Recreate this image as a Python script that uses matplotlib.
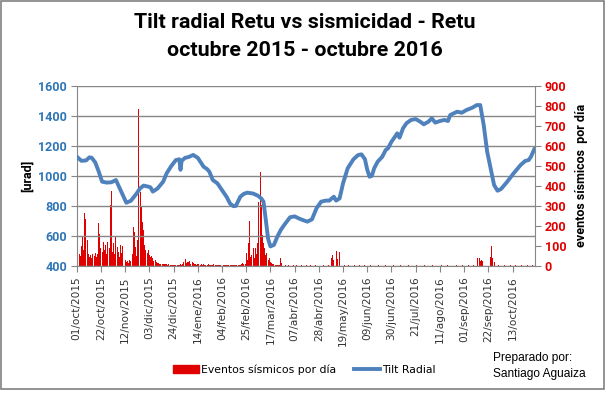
import numpy as np
import matplotlib
matplotlib.use('Agg')
import matplotlib.pyplot as plt
import matplotlib.dates as mdates
from matplotlib.patches import Patch, Rectangle
from matplotlib.lines import Line2D
import datetime as dt

# Start of the series (day offsets below count from here)
inicio = dt.date(2015, 10, 1)

# Tilt radial [urad], day offset -> value
tilt_dia = [0, 4, 8, 11, 13, 16, 19, 22, 26, 30, 34, 38, 43, 47, 52, 55, 58, 62, 64, 66,
            70, 75, 78, 82, 86, 89, 90, 91, 94, 97, 101, 105, 110, 113, 115, 118, 122, 126,
            130, 133, 136, 138, 142, 145, 148, 153, 157, 160, 162, 164, 166, 168, 171, 174,
            177, 180, 185, 189, 193, 196, 200, 204, 208, 212, 216, 219, 223, 225, 228, 231,
            235, 240, 244, 247, 250, 252, 254, 256, 258, 261, 265, 268, 270, 273, 276, 278,
            280, 283, 286, 290, 294, 298, 301, 305, 308, 311, 315, 319, 322, 324, 327, 330,
            334, 338, 343, 347, 350, 353, 356, 359, 362, 365, 368, 373, 379, 385, 389, 392,
            394, 397]
tilt_val = [1128, 1100, 1102, 1123, 1120, 1090, 1030, 961, 955, 957, 972, 905, 821, 834, 883,
            917, 935, 928, 923, 895, 915, 961, 1017, 1065, 1105, 1110, 1040, 1100, 1120, 1125,
            1139, 1120, 1061, 1045, 1028, 972, 950, 905, 860, 815, 798, 800, 862, 880, 888,
            882, 868, 850, 828, 706, 580, 530, 540, 595, 640, 673, 724, 730, 715, 706, 695,
            710, 784, 828, 835, 835, 861, 835, 850, 950, 1050, 1110, 1138, 1143, 1110, 1040,
            994, 1000, 1050, 1094, 1127, 1172, 1183, 1227, 1260, 1283, 1254, 1316, 1350, 1372,
            1378, 1360, 1343, 1360, 1383, 1354, 1365, 1372, 1365, 1405, 1416, 1427, 1420, 1438,
            1453, 1471, 1471, 1338, 1161, 1050, 939, 901, 912, 957, 1017, 1072, 1099, 1105,
            1127, 1180]

# Seismic events per day, days 0..145 (oct 2015 - feb 2016)
ev_oct_feb = [75, 70, 60, 50, 100, 150, 80, 262, 233, 130, 60, 45, 55, 40, 60, 50, 65, 45, 60, 213,
              160, 90, 70, 121, 80, 105, 60, 121, 90, 304, 376, 72, 113, 60, 146, 97, 70, 47, 105, 63,
              100, 50, 30, 20, 25, 15, 30, 25, 60, 193, 171, 97, 50, 130, 782, 371, 296, 221, 180, 105,
              80, 63, 80, 55, 47, 50, 40, 27, 30, 20, 15, 13, 12, 10, 8, 10,
              12, 8, 10, 6, 8, 5, 4, 6, 3, 5, 4, 6, 3, 5, 8, 5, 12, 20, 33, 15, 22, 18, 25, 12,
              20, 15, 8, 10, 6, 12, 8, 5, 10, 6, 8, 4, 6, 5, 8, 4, 3, 6, 5, 8, 4, 3, 5, 4, 6, 3,
              4, 5, 3, 4, 6, 3, 4, 5, 3, 4, 3, 5, 4, 3, 5, 4, 6, 8, 15, 10]
# days 146..178 (feb - mar 2016 swarm)
ev_feb_mar = [10, 63, 30, 113, 226, 47, 55, 88, 40, 88, 60, 113, 321, 471, 305, 155, 113, 88, 55, 63,
              30, 38, 20, 15, 10, 8, 5, 6, 4, 5, 6, 38, 17]
# later days with events (day offset, count)
ev_resto = [(181, 5), (184, 4), (188, 6), (191, 4), (195, 5), (199, 3), (203, 6), (207, 4),
            (211, 5), (214, 4), (218, 6), (221, 38), (222, 55), (223, 30), (225, 76), (226, 33),
            (228, 71), (232, 5), (236, 4), (241, 6), (245, 4), (250, 5), (255, 3), (262, 4),
            (268, 5), (275, 3), (281, 4), (288, 5), (295, 4), (302, 3), (309, 5), (316, 4),
            (322, 5), (329, 4), (335, 5), (340, 4), (344, 5), (348, 41), (349, 38), (350, 27),
            (351, 30), (352, 25), (355, 6), (359, 46), (360, 100), (361, 38), (362, 20),
            (366, 5), (371, 4), (376, 5), (381, 4), (386, 5), (391, 4), (395, 5)]

# X tick labels every 21 days
tick_lbl = ['01/oct/2015', '22/oct/2015', '12/nov/2015', '03/dic/2015', '24/dic/2015',
            '14/ene/2016', '04/feb/2016', '25/feb/2016', '17/mar/2016', '07/abr/2016',
            '28/abr/2016', '19/may/2016', '09/jun/2016', '30/jun/2016', '21/jul/2016',
            '11/ago/2016', '01/sep/2016', '22/sep/2016', '13/oct/2016']

azul = '#4F81BD'
rojo = '#E00000'
gris = '#868686'

ev_dia = list(range(len(ev_oct_feb))) + list(range(146, 146 + len(ev_feb_mar))) + [d for d, n in ev_resto]
ev_n = ev_oct_feb + ev_feb_mar + [n for d, n in ev_resto]

fig = plt.figure(figsize=(6.09, 3.94), dpi=100)
fig.patches.append(Rectangle((0.002, 0.012), 0.989, 0.985, transform=fig.transFigure,
                             fill=False, edgecolor='#808080', linewidth=1.2))

ax = fig.add_axes([0.126, 0.325, 0.7525, 0.4575])
ax2 = ax.twinx()

fechas_ev = [inicio + dt.timedelta(days=d) for d in ev_dia]
fechas_tilt = [inicio + dt.timedelta(days=d) for d in tilt_dia]

ax2.bar(fechas_ev, ev_n, width=0.85, color=rojo, linewidth=0, zorder=2)
ax.plot(fechas_tilt, tilt_val, color=azul, linewidth=2.8, solid_joinstyle='round',
        solid_capstyle='round', zorder=3)

# draw line above bars
ax.set_zorder(ax2.get_zorder() + 1)
ax.patch.set_visible(False)

x0 = mdates.date2num(inicio)
ax.set_xlim(x0, x0 + 397.5)
ax.set_ylim(400, 1600)
ax2.set_ylim(0, 900)
ax.set_yticks(range(400, 1601, 200))
ax2.set_yticks(range(0, 901, 100))

ax.set_xticks([x0 + 21 * i for i in range(len(tick_lbl))])
ax.set_xticklabels(tick_lbl, rotation=90, fontsize=7.6, color='#333333')

ax.grid(axis='y', color=gris, linewidth=1.0, zorder=0)
ax.set_axisbelow(True)

for a in (ax, ax2):
    a.spines['top'].set_visible(False)
    for s in ('left', 'right', 'bottom'):
        a.spines[s].set_color(gris)
ax.spines['right'].set_visible(False)
ax2.spines['left'].set_visible(False)
ax2.spines['bottom'].set_visible(False)

ax.tick_params(axis='y', colors=gris, labelcolor='#2E75B6', length=4, pad=3)
ax.tick_params(axis='x', colors=gris, labelcolor='#333333', length=4)
ax2.tick_params(axis='y', colors=gris, labelcolor='#E00000', length=4, pad=3)
for t in ax.get_yticklabels() + ax2.get_yticklabels():
    t.set_fontweight('bold')
    t.set_family('Roboto')
    t.set_fontsize(9)

ax.set_ylabel('[urad]', fontsize=9, fontweight='bold', family='Roboto', labelpad=3)
ax2.set_ylabel('eventos sísmicos  por día', fontsize=9, fontweight='bold', family='Roboto',
               labelpad=6)

fig.text(0.5, 0.942, 'Tilt radial Retu vs sismicidad - Retu', ha='center', va='center',
         fontsize=15.4, fontweight='bold', family='Roboto')
fig.text(0.5, 0.871, 'octubre 2015 - octubre 2016', ha='center', va='center',
         fontsize=15.4, fontweight='bold', family='Roboto')

handles = [Patch(facecolor=rojo, edgecolor=rojo), Line2D([0], [0], color=azul, linewidth=2.8)]
fig.legend(handles, ['Eventos sísmicos por día', 'Tilt Radial'], loc='center',
           bbox_to_anchor=(0.4995, 0.062), ncol=2, frameon=False, fontsize=7.8,
           handlelength=2.4, handleheight=0.8, columnspacing=1.6, handletextpad=0.25)

fig.text(0.81, 0.071, 'Preparado por:\nSantiago Aguaiza', ha='left', va='center',
         fontsize=8.6, family='Liberation Sans', linespacing=1.35)

fig.savefig('out.png', dpi=100)
